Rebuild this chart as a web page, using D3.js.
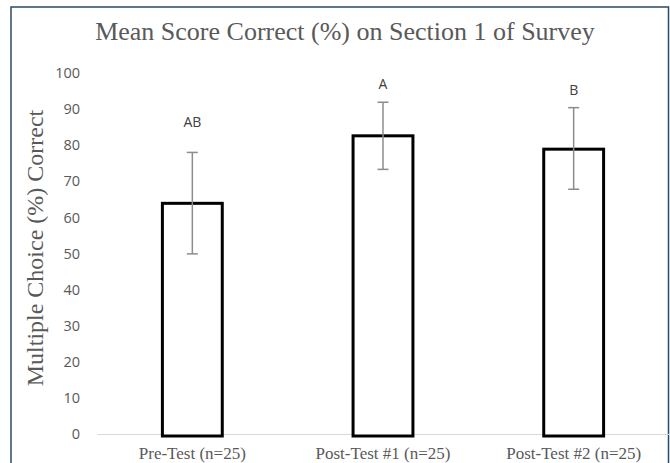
<!DOCTYPE html>
<html>
<head>
<meta charset="utf-8">
<script src="https://cdn.jsdelivr.net/npm/d3@7"></script>
<style>
  body { margin: 0; background: #fff; }
</style>
</head>
<body>
<div id="chart"></div>
<script>
// data
let categories = ["Pre-Test (n=25)", "Post-Test #1 (n=25)", "Post-Test #2 (n=25)"];
let means = [63.9, 82.6, 78.9];
let errLow = [49.9, 73.3, 67.8];
let errHigh = [78.0, 91.9, 90.4];
let letters = ["AB", "A", "B"];
let letterAt = [85, 95.5, 94];   // value where each letter sits
let yTicks = [0, 10, 20, 30, 40, 50, 60, 70, 80, 90, 100];

let W = 670, H = 463;
let margin = { top: 73, right: 1, bottom: 29, left: 97 },
    width = W - margin.left - margin.right,
    height = H - margin.top - margin.bottom;

let root = d3.select("#chart")
    .append("svg")
    .attr("width", W)
    .attr("height", H);

// frame round the chart
root.append("rect")
    .attr("x", 11)
    .attr("y", 7)
    .attr("width", 657.5)
    .attr("height", 470)
    .attr("fill", "none")
    .attr("stroke", "#2b4a63")
    .attr("stroke-width", 1.5);

let svg = root.append("g")
    .attr("transform", "translate(" + margin.left + "," + margin.top + ")");

let x = d3.scaleBand()
    .domain(categories)
    .range([0, width])
    .paddingInner(0.686)
    .paddingOuter(0.343);

let y = d3.scaleLinear()
    .domain([0, 100])
    .range([height, 0]);

// y axis, tick labels only
let yAxis = d3.axisLeft(y).tickValues(yTicks).tickSize(0).tickPadding(17);
let gy = svg.append("g").call(yAxis);
gy.select(".domain").remove();
gy.selectAll("text")
    .attr("fill", "#595959")
    .style("font-family", "'Open Sans', 'Liberation Sans', sans-serif")
    .style("font-size", "14.5px");

// x axis
let xAxis = d3.axisBottom(x).tickSize(0).tickPadding(13);
let gx = svg.append("g")
    .attr("transform", "translate(0," + height + ")")
    .call(xAxis);
gx.select(".domain").attr("stroke", "#d9d9d9").attr("stroke-width", 1.2);
gx.selectAll("text")
    .attr("fill", "#595959")
    .style("font-family", "'Liberation Serif', 'Times New Roman', serif")
    .style("font-size", "17px");

// bars
svg.selectAll(".bar")
    .data(means)
    .enter()
    .append("rect")
    .attr("class", "bar")
    .attr("x", function (d, i) { return x(categories[i]); })
    .attr("y", function (d) { return y(d); })
    .attr("width", x.bandwidth())
    .attr("height", function (d) { return height - y(d) + 2; })
    .attr("fill", "#fff")
    .attr("stroke", "#000")
    .attr("stroke-width", 3);

// error bars
let cx = function (i) { return x(categories[i]) + x.bandwidth() / 2; };
let err = svg.append("g")
    .attr("stroke", "#8c8c8c")
    .attr("stroke-width", 1.5);

err.selectAll(".stem")
    .data(categories)
    .enter()
    .append("line")
    .attr("x1", function (d, i) { return cx(i); })
    .attr("x2", function (d, i) { return cx(i); })
    .attr("y1", function (d, i) { return y(errLow[i]); })
    .attr("y2", function (d, i) { return y(errHigh[i]); });

[errLow, errHigh].forEach(function (vals) {
    err.selectAll(null)
        .data(vals)
        .enter()
        .append("line")
        .attr("x1", function (d, i) { return cx(i) - 5.5; })
        .attr("x2", function (d, i) { return cx(i) + 5.5; })
        .attr("y1", function (d) { return y(d); })
        .attr("y2", function (d) { return y(d); });
});

// significance letters
svg.selectAll(".letter")
    .data(letters)
    .enter()
    .append("text")
    .attr("x", function (d, i) { return cx(i); })
    .attr("y", function (d, i) { return y(letterAt[i]); })
    .attr("text-anchor", "middle")
    .attr("fill", "#404040")
    .style("font-family", "'Open Sans', 'Liberation Sans', sans-serif")
    .style("font-size", "14px")
    .text(function (d) { return d; });

// title
root.append("text")
    .attr("x", 345)
    .attr("y", 40)
    .attr("text-anchor", "middle")
    .attr("fill", "#595959")
    .style("font-family", "'Liberation Serif', 'Times New Roman', serif")
    .style("font-size", "26px")
    .text("Mean Score Correct (%) on Section 1 of Survey");

// y label
root.append("text")
    .attr("transform", "translate(43,248) rotate(-90)")
    .attr("text-anchor", "middle")
    .attr("fill", "#595959")
    .style("font-family", "'Liberation Serif', 'Times New Roman', serif")
    .style("font-size", "24px")
    .text("Multiple Choice (%) Correct");
</script>
</body>
</html>
